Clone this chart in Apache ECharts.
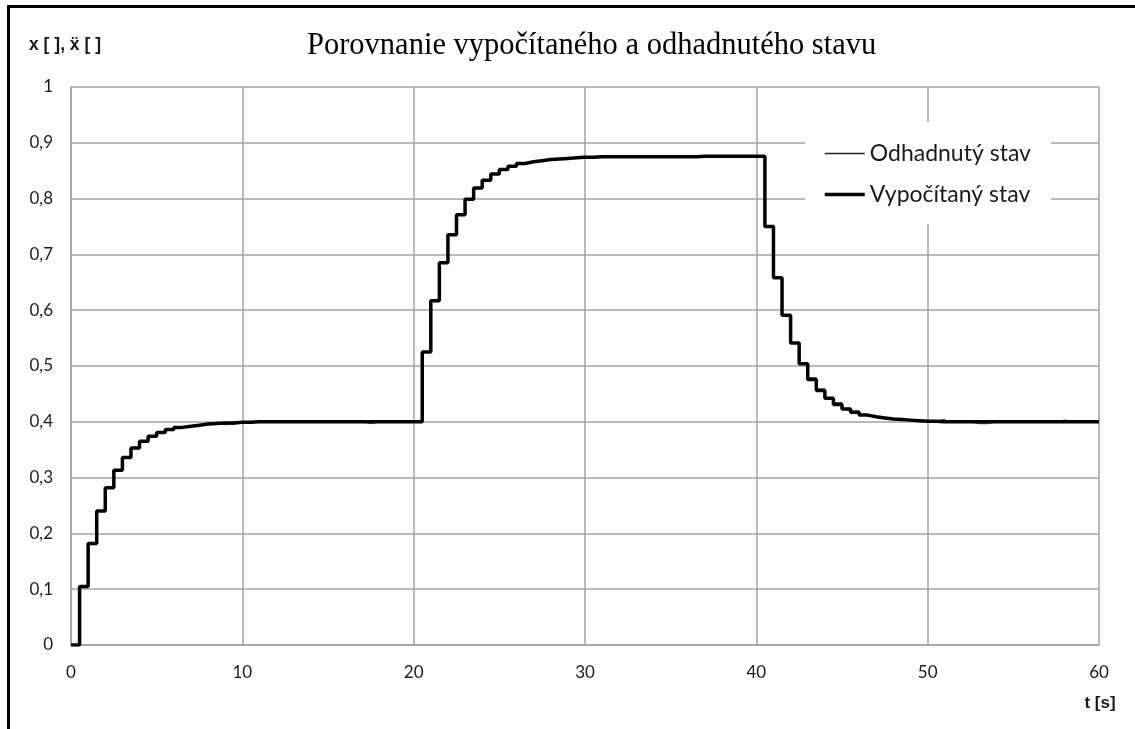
<!DOCTYPE html>
<html>
<head>
<meta charset="utf-8">
<script src="https://cdn.jsdelivr.net/npm/echarts@6/dist/echarts.min.js"></script>
<style>
  html, body { margin: 0; padding: 0; background: #fff; }
  #chart { width: 1135px; height: 729px; }
</style>
</head>
<body>
<div id="chart"></div>
<script>
// Sample times [s]
const times = [
  0, 0.5, 1, 1.5, 2, 2.5, 3, 3.5, 4, 4.5, 5, 5.5, 6, 6.5, 7, 7.5, 8, 8.5, 9, 9.5,
  10, 10.5, 11, 11.5, 12, 12.5, 13, 13.5, 14, 14.5, 15, 15.5, 16, 16.5, 17, 17.5, 18, 18.5, 19, 19.5,
  20, 20.5, 21, 21.5, 22, 22.5, 23, 23.5, 24, 24.5, 25, 25.5, 26, 26.5, 27, 27.5, 28, 28.5, 29, 29.5,
  30, 30.5, 31, 31.5, 32, 32.5, 33, 33.5, 34, 34.5, 35, 35.5, 36, 36.5, 37, 37.5, 38, 38.5, 39, 39.5,
  40, 40.5, 41, 41.5, 42, 42.5, 43, 43.5, 44, 44.5, 45, 45.5, 46, 46.5, 47, 47.5, 48, 48.5, 49, 49.5,
  50, 50.5, 51, 51.5, 52, 52.5, 53, 53.5, 54, 54.5, 55, 55.5, 56, 56.5, 57, 57.5, 58, 58.5, 59, 59.5,
  60
];

// Vypočítaný stav (computed state)
const computed = [
  0, 0.105, 0.182, 0.240, 0.282, 0.313, 0.336, 0.353, 0.365, 0.374, 0.381, 0.386, 0.390, 0.392, 0.394, 0.396, 0.397, 0.398, 0.398, 0.399,
  0.399, 0.4, 0.4, 0.4, 0.4, 0.4, 0.4, 0.4, 0.4, 0.4, 0.4, 0.4, 0.4, 0.4, 0.4, 0.4, 0.4, 0.4, 0.4, 0.4,
  0.4, 0.525, 0.617, 0.685, 0.735, 0.771, 0.799, 0.819, 0.833, 0.844, 0.852, 0.858, 0.863, 0.866, 0.868, 0.870, 0.871, 0.872, 0.873, 0.874,
  0.874, 0.875, 0.875, 0.875, 0.875, 0.875, 0.875, 0.875, 0.875, 0.875, 0.875, 0.875, 0.875, 0.876, 0.876, 0.876, 0.876, 0.876, 0.876, 0.876,
  0.876, 0.750, 0.658, 0.591, 0.541, 0.504, 0.476, 0.456, 0.442, 0.431, 0.423, 0.417, 0.412, 0.409, 0.407, 0.405, 0.404, 0.403, 0.402, 0.401,
  0.401, 0.4, 0.4, 0.4, 0.4, 0.4, 0.4, 0.4, 0.4, 0.4, 0.4, 0.4, 0.4, 0.4, 0.4, 0.4, 0.4, 0.4, 0.4, 0.4,
  0.4
];

// Odhadnutý stav (estimated state)
const estimated = [
  0, 0.105, 0.182, 0.240, 0.282, 0.313, 0.336, 0.353, 0.365, 0.374, 0.381, 0.386, 0.390, 0.392, 0.394, 0.396, 0.397, 0.395, 0.396, 0.399,
  0.399, 0.4, 0.4, 0.4, 0.4, 0.4, 0.4, 0.4, 0.4, 0.4, 0.4, 0.4, 0.4, 0.4, 0.397, 0.4, 0.4, 0.4, 0.4, 0.4,
  0.4, 0.525, 0.617, 0.685, 0.735, 0.771, 0.799, 0.819, 0.833, 0.844, 0.852, 0.858, 0.863, 0.866, 0.868, 0.870, 0.871, 0.872, 0.873, 0.874,
  0.874, 0.875, 0.875, 0.875, 0.875, 0.875, 0.875, 0.875, 0.875, 0.875, 0.875, 0.875, 0.875, 0.876, 0.876, 0.876, 0.876, 0.877, 0.876, 0.876,
  0.876, 0.750, 0.658, 0.591, 0.541, 0.504, 0.479, 0.459, 0.442, 0.434, 0.423, 0.419, 0.412, 0.409, 0.407, 0.405, 0.404, 0.403, 0.402, 0.401,
  0.401, 0.404, 0.4, 0.4, 0.4, 0.397, 0.397, 0.4, 0.4, 0.4, 0.4, 0.4, 0.4, 0.4, 0.4, 0.403, 0.4, 0.4, 0.4, 0.4,
  0.4
];

const seriesNames = ['Odhadnutý stav', 'Vypočítaný stav'];
const titleText = 'Porovnanie vypočítaného a odhadnutého stavu';
const yAxisName = 'x [ ], ẍ [ ]';
const xAxisName = 't [s]';
const xTicks = [0, 10, 20, 30, 40, 50, 60];
const yTickLabels = ['0', '0,1', '0,2', '0,3', '0,4', '0,5', '0,6', '0,7', '0,8', '0,9', '1'];

const toPairs = (ys) => times.map((t, i) => [t, ys[i]]);

const chart = echarts.init(document.getElementById('chart'), null, { renderer: 'canvas' });
const labelFont = 'Lato';
const gridColor = '#a3a3a3';

chart.setOption({
  animation: false,
  backgroundColor: '#ffffff',
  title: {
    text: titleText,
    left: 307,
    top: 30,
    padding: 0,
    textStyle: { fontFamily: 'Liberation Serif', fontWeight: 'normal', fontSize: 30.5, color: '#000' }
  },
  legend: {
    orient: 'vertical',
    left: 805,
    top: 122,
    padding: [20, 20, 18, 18],
    backgroundColor: '#ffffff',
    itemWidth: 40,
    itemHeight: 20,
    itemGap: 18,
    itemStyle: { opacity: 0 },
    textStyle: { fontFamily: labelFont, fontSize: 23, color: '#1a1a1a', lineHeight: 20 },
    data: [
      { name: seriesNames[0], lineStyle: { width: 1.5, color: '#222222' } },
      { name: seriesNames[1], lineStyle: { width: 3.5, color: '#000000' } }
    ]
  },
  grid: { left: 71, right: 36, top: 87, bottom: 84, containLabel: false },
  xAxis: {
    type: 'value',
    min: xTicks[0],
    max: xTicks[xTicks.length - 1],
    interval: 10,
    name: xAxisName,
    nameLocation: 'end',
    nameGap: 1,
    nameTextStyle: {
      fontFamily: 'Liberation Sans', fontWeight: 'bold', fontSize: 17, color: '#1a1a1a',
      align: 'center', verticalAlign: 'top', padding: [50, 0, 0, 0]
    },
    axisLine: { show: true, lineStyle: { color: gridColor, width: 1.5 } },
    axisTick: { show: false },
    axisLabel: { margin: 19, fontFamily: labelFont, fontSize: 17, color: '#1a1a1a' },
    splitLine: { show: true, lineStyle: { color: gridColor, width: 1.5 } }
  },
  yAxis: {
    type: 'value',
    min: 0,
    max: 1,
    interval: 0.1,
    name: yAxisName,
    nameLocation: 'end',
    nameGap: 33,
    nameTextStyle: {
      fontFamily: 'Liberation Sans', fontWeight: 'bold', fontSize: 17.5, color: '#1a1a1a',
      padding: [0, 12, 0, 0]
    },
    axisLine: { show: true, lineStyle: { color: gridColor, width: 1.5 } },
    axisTick: { show: false },
    axisLabel: {
      margin: 18, fontFamily: labelFont, fontSize: 17, color: '#1a1a1a',
      formatter: (v) => yTickLabels[Math.round(v * 10)]
    },
    splitLine: { show: true, lineStyle: { color: gridColor, width: 1.5 } }
  },
  graphic: [
    { type: 'rect', shape: { x: 7, y: 5, width: 1128, height: 3 }, style: { fill: '#000' }, z: 100 },
    { type: 'rect', shape: { x: 7, y: 5, width: 3, height: 724 }, style: { fill: '#000' }, z: 100 }
  ],
  series: [
    {
      name: seriesNames[0],
      type: 'line',
      step: 'end',
      symbol: 'none',
      data: toPairs(estimated),
      lineStyle: { color: '#555555', width: 1.5 },
      itemStyle: { color: '#222222' }
    },
    {
      name: seriesNames[1],
      type: 'line',
      step: 'end',
      symbol: 'none',
      data: toPairs(computed),
      lineStyle: { color: '#000000', width: 3.5 },
      itemStyle: { color: '#000000' }
    }
  ]
});
</script>
</body>
</html>
